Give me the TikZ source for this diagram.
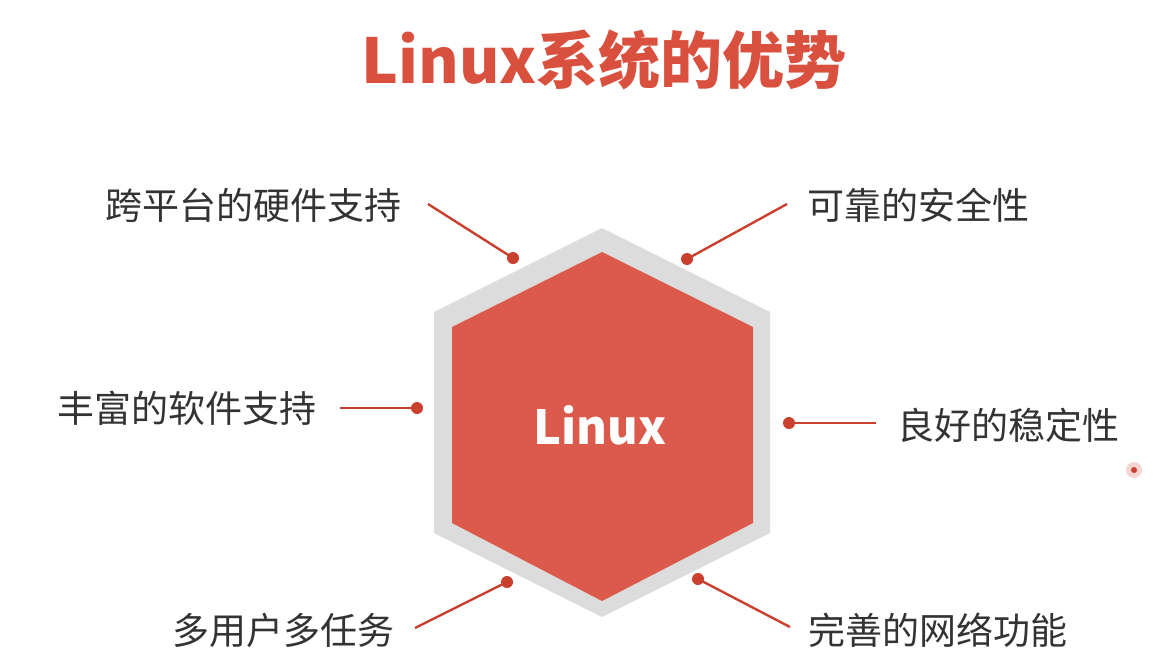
\documentclass[tikz,border=0pt]{standalone}
\usepackage{fontspec}
\setmainfont{Noto Sans CJK SC}
\definecolor{hexred}{HTML}{DB5A4B}
\definecolor{hexgray}{HTML}{DCDCDC}
\definecolor{linered}{HTML}{C9402F}
\definecolor{titlered}{HTML}{D9503F}
\definecolor{labeltext}{HTML}{333333}
\tikzset{
  label text/.style={text=labeltext, font=\fontsize{37}{40}\selectfont, inner sep=0pt},
  connector/.style={draw=linered, line width=2.4pt},
  dotmark/.style={fill=linered},
}
\begin{document}
\begin{tikzpicture}[x=1pt,y=-1pt]
\useasboundingbox (0,0) rectangle (1155,659);
\fill[white] (0,0) rectangle (1155,659);
% title
\node[text=titlered, font=\fontsize{62}{66}\selectfont\bfseries, inner sep=0pt] (title) at (604,60) {Linux系统的优势};
% hexagons
\fill[hexgray] (602,228) -- (770,312) -- (770,533) -- (602,617) -- (434,533) -- (434,312) -- cycle;
\fill[hexred] (602,252) -- (753,327) -- (753,523) -- (602,601) -- (452,523) -- (452,327) -- cycle;
\node[text=white, font=\fontsize{47}{50}\selectfont\bfseries, inner sep=0pt] (center) at (600,425) {Linux};
% dot coordinates
\coordinate (dTL) at (513,258);
\coordinate (dTR) at (687,259);
\coordinate (dL) at (417,408);
\coordinate (dR) at (789,423);
\coordinate (dBL) at (507,582);
\coordinate (dBR) at (698,579);
% free ends
\coordinate (eTL) at (428,204);
\coordinate (eTR) at (787,204);
\coordinate (eL) at (340,408);
\coordinate (eR) at (876,423);
\coordinate (eBL) at (415,628);
\coordinate (eBR) at (790,627);
% labels
\node[label text] (lTL) at (253,205) {跨平台的硬件支持};
\node[label text] (lTR) at (918,205) {可靠的安全性};
\node[label text] (lL) at (187,408) {丰富的软件支持};
\node[label text] (lR) at (1008,425) {良好的稳定性};
\node[label text] (lBL) at (283,630) {多用户多任务};
\node[label text] (lBR) at (938,630) {完善的网络功能};
% connectors
\foreach \p in {TL,TR,L,R,BL,BR}{
  \draw[connector] (e\p) -- (d\p);
  \fill[dotmark] (d\p) circle (6);
}
% pointer mark
\fill[hexred, opacity=0.25] (1134,470) circle (8);
\fill[linered] (1134,470) circle (3);
\end{tikzpicture}
\end{document}
